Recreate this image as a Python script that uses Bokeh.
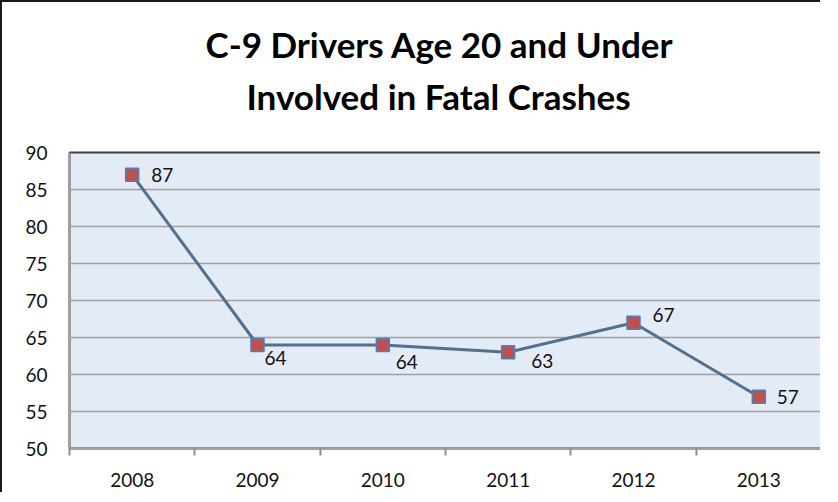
import numpy as np
from bokeh.plotting import figure
from bokeh.models import ColumnDataSource, Range1d, FixedTicker, Title
from bokeh.core.properties import value
from bokeh.embed import file_html
from bokeh.resources import INLINE

# ---- data ----
years = ["2008", "2009", "2010", "2011", "2012", "2013"]
drivers = [87, 64, 64, 63, 67, 57]
y_ticks = [50, 55, 60, 65, 70, 75, 80, 85, 90]
title_line1 = "C-9 Drivers Age 20 and Under"
title_line2 = "Involved in Fatal Crashes"

# label placement (screen px offsets from each point)
label_dx = [19, 7, 13, 23, 19, 18]
label_dy = [0, 13, 17, 9, -8, 0]

FONT = "Lato"
pos = np.arange(1, len(years) + 1)
bounds = np.arange(0.5, len(years) + 1.0, 1.0)

src = ColumnDataSource(dict(
    x=pos, y=drivers, txt=[str(v) for v in drivers],
    dx=label_dx, dy=label_dy,
))

p = figure(width=820, height=492, output_backend="svg", toolbar_location=None,
           x_range=Range1d(0.5, len(years) + 0.5), y_range=Range1d(50, 90),
           min_border_left=67, min_border_right=1, min_border_top=150,
           min_border_bottom=46)
p.styles = {"border-left": "2px solid #1a1a1a", "border-top": "2px solid #1a1a1a"}

p.background_fill_color = "#E3EBF6"
p.border_fill_color = "white"
p.outline_line_color = "#404040"
p.outline_line_width = 2

# grid
p.xgrid.grid_line_color = None
p.ygrid.grid_line_color = "#A0A0A0"
p.ygrid.grid_line_width = 1.5
p.ygrid.ticker = FixedTicker(ticks=y_ticks)

# y axis
p.yaxis.ticker = FixedTicker(ticks=y_ticks)
p.yaxis.major_tick_out = 0
p.yaxis.major_tick_in = 0
p.yaxis.minor_tick_line_color = None
p.yaxis.axis_line_color = "#A0A0A0"
p.yaxis.axis_line_width = 2
p.yaxis.major_label_standoff = 22
p.yaxis.major_label_text_font = FONT
p.yaxis.major_label_text_font_size = "19px"
p.yaxis.major_label_text_color = "#111111"

# x axis: labels at centers, tick marks at category boundaries
p.xaxis.ticker = FixedTicker(ticks=list(pos), minor_ticks=list(bounds))
p.xaxis.major_label_overrides = {int(k): y for k, y in zip(pos, years)}
p.xaxis.major_tick_out = 0
p.xaxis.major_tick_in = 0
p.xaxis.minor_tick_out = 7
p.xaxis.minor_tick_in = 0
p.xaxis.minor_tick_line_color = "#909090"
p.xaxis.minor_tick_line_width = 2
p.xaxis.axis_line_color = "#A0A0A0"
p.xaxis.axis_line_width = 2
p.xaxis.major_label_standoff = 17
p.xaxis.major_label_text_font = FONT
p.xaxis.major_label_text_font_size = "19px"
p.xaxis.major_label_text_color = "#111111"

# series
p.line("x", "y", source=src, line_color="#55708F", line_width=3)
p.scatter("x", "y", source=src, marker="square", size=13,
          fill_color="#C0504D", line_color="#4F81BD", line_width=1.5)
p.text("x", "y", text="txt", source=src, x_offset="dx", y_offset="dy",
       text_font=value(FONT), text_font_size="19px", text_color="#111111",
       text_align="left", text_baseline="middle")

# title (two lines); panels added first sit closest to the plot
p.add_layout(Title(text=".", text_font_size="2px", text_color="white", standoff=29), "above")
for txt, so, off in [(title_line2, 8, 177), (title_line1, 8, 136)]:
    p.add_layout(Title(text=txt, align="left", offset=off, standoff=so,
                       text_font=FONT, text_font_style="bold",
                       text_font_size="35px", text_color="#000000"), "above")

open("out.html", "w").write(file_html(p, INLINE))
